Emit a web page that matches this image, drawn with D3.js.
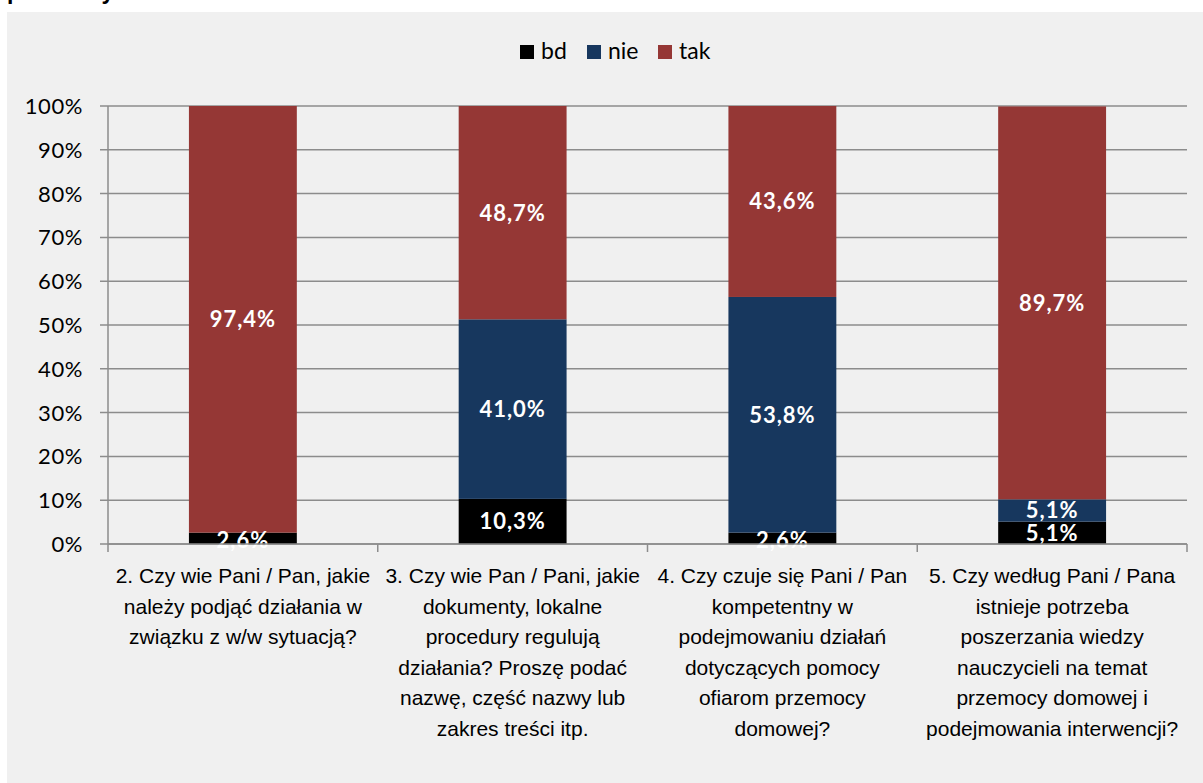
<!DOCTYPE html>
<html><head><meta charset="utf-8">
<script src="https://cdn.jsdelivr.net/npm/d3@7"></script>
<style>body{margin:0;background:#fff;}svg{display:block;}</style>
</head><body>
<svg id="c" width="1203" height="783"></svg>
<script>
const categories = [
  ["2. Czy wie Pani / Pan, jakie","należy podjąć działania w","związku z w/w sytuacją?"],
  ["3. Czy wie Pan / Pani, jakie","dokumenty, lokalne","procedury regulują","działania? Proszę podać","nazwę, część nazwy lub","zakres treści itp."],
  ["4. Czy czuje się Pani / Pan","kompetentny w","podejmowaniu działań","dotyczących pomocy","ofiarom przemocy","domowej?"],
  ["5. Czy według Pani / Pana","istnieje potrzeba","poszerzania wiedzy","nauczycieli na temat","przemocy domowej i","podejmowania interwencji?"]
];
const seriesNames = ["bd","nie","tak"];
const bd  = [2.6, 10.3, 2.6, 5.1];
const nie = [0, 41.0, 53.8, 5.1];
const tak = [97.4, 48.7, 43.6, 89.7];
const yTicks = [0,10,20,30,40,50,60,70,80,90,100];
const colors = {bd:"#000000", nie:"#17375E", tak:"#953735"};

(function(){
const svg = d3.select("#c");
svg.append("rect").attr("x",7).attr("y",12).attr("width",1196).attr("height",771).attr("fill","#f0f0f0");
svg.append("text").attr("x",7).attr("y",-1).attr("font-family","Liberation Sans, Arial, sans-serif")
  .attr("font-weight","bold").attr("font-size",23).attr("fill","#000").text("przemocy:");

const pL=108, pR=1187, pT=106, pB=544;
const x = d3.scaleBand().domain(d3.range(categories.length)).range([pL,pR]).paddingInner(0.6).paddingOuter(0.3);
const xb = d3.scaleBand().domain(d3.range(categories.length)).range([pL,pR]);
const y = d3.scaleLinear().domain([0,100]).range([pB,pT]);

svg.append("g").selectAll("line").data(yTicks).join("line")
  .attr("x1",pL-8).attr("x2",pR).attr("y1",d=>y(d)).attr("y2",d=>y(d))
  .attr("stroke","#8c8c8c").attr("stroke-width",1.5);
svg.append("line").attr("x1",pL).attr("x2",pL).attr("y1",pT).attr("y2",pB).attr("stroke","#8c8c8c").attr("stroke-width",1.5);
svg.append("g").selectAll("text").data(yTicks).join("text")
  .attr("x",83).attr("y",d=>y(d)).attr("dy","0.36em").attr("text-anchor","end")
  .attr("font-family","Lato, Carlito, sans-serif").attr("font-size",22).attr("letter-spacing",0.6).attr("fill","#000")
  .text(d=>d+"%");

const data = categories.map((c,i)=>({i, bd:bd[i], nie:nie[i], tak:tak[i]}));
const stack = d3.stack().keys(seriesNames)(data);
const g = svg.append("g");
stack.forEach(s=>{
  g.append("g").selectAll("rect").data(s).join("rect")
    .attr("x",d=>x(d.data.i)).attr("width",x.bandwidth())
    .attr("y",d=>y(d[1])).attr("height",d=>y(d[0])-y(d[1]))
    .attr("fill",colors[s.key]);
});
stack.forEach(s=>{
  g.append("g").selectAll("text").data(s.filter(d=>d[1]-d[0]>0)).join("text")
    .attr("x",d=>x(d.data.i)+x.bandwidth()/2).attr("y",d=>y((d[0]+d[1])/2)+ (d[1]-d[0]<4?2:0))
    .attr("dy","0.36em").attr("text-anchor","middle")
    .attr("font-family","Lato, Carlito, sans-serif").attr("font-weight","bold").attr("font-size",22).attr("letter-spacing",1)
    .attr("fill","#fff")
    .text(d=>d3.format(".1f")(d[1]-d[0]).replace(".",",")+"%");
});

svg.append("line").attr("x1",pL).attr("x2",pR).attr("y1",pB).attr("y2",pB).attr("stroke","#8c8c8c").attr("stroke-width",1.5);
const bounds = d3.range(categories.length+1).map(i=>pL+i*xb.bandwidth());
svg.append("g").selectAll("line").data(bounds).join("line")
  .attr("x1",d=>d).attr("x2",d=>d).attr("y1",pB).attr("y2",pB+8).attr("stroke","#8c8c8c").attr("stroke-width",1.5);
categories.forEach((lines,i)=>{
  const t = svg.append("text").attr("text-anchor","middle")
    .attr("font-family","Liberation Sans, Arial, sans-serif").attr("font-size",21).attr("fill","#000");
  lines.forEach((l,k)=>t.append("tspan").attr("x",xb(i)+xb.bandwidth()/2).attr("y",583+k*30.6).text(l));
});

const leg = svg.append("g").attr("font-family","Lato, Carlito, sans-serif").attr("font-size",23);
const legX = [520, 587, 658];
seriesNames.forEach((n,k)=>{
  leg.append("rect").attr("x",legX[k]).attr("y",45).attr("width",14).attr("height",14).attr("fill",colors[n]);
  leg.append("text").attr("x",legX[k]+21).attr("y",51).attr("dy","0.36em").attr("fill","#000").text(n);
});
})();
</script>
</body></html>
